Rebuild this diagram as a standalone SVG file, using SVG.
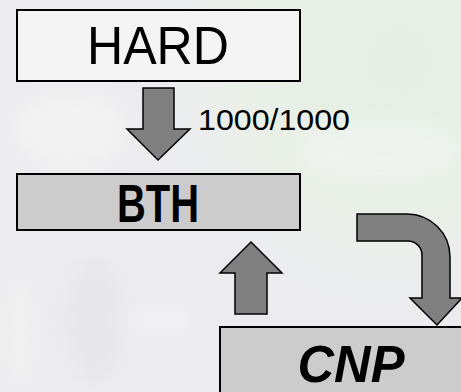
<svg xmlns="http://www.w3.org/2000/svg" width="461" height="392" viewBox="0 0 461 392">
<style>
.box{stroke:#000;stroke-width:2}
.arrow{fill:#808080;stroke:#000;stroke-width:1.5;stroke-linejoin:miter}
.t{font-family:"Liberation Sans",Arial,sans-serif;fill:#000;text-anchor:middle}
</style>
<defs>
<radialGradient id="green" cx="400" cy="60" r="260" gradientUnits="userSpaceOnUse">
<stop offset="0" stop-color="#e4efe2"/>
<stop offset="0.6" stop-color="#eaf0e8"/>
<stop offset="1" stop-color="#eeeff0" stop-opacity="0"/>
</radialGradient>
<filter id="blur" x="-20%" y="-20%" width="140%" height="140%"><feGaussianBlur stdDeviation="10"/></filter>
</defs>
<g id="background">
<rect x="0" y="0" width="461" height="392" fill="#ececee"/>
<rect x="0" y="0" width="461" height="392" fill="url(#green)"/>
<g filter="url(#blur)" opacity="0.6">
<ellipse cx="70" cy="130" rx="60" ry="40" fill="#f6f6f6"/>
<ellipse cx="95" cy="320" rx="30" ry="60" fill="#e4e4e6"/>
<ellipse cx="160" cy="320" rx="40" ry="12" fill="#f6f6f8"/>
<ellipse cx="20" cy="330" rx="15" ry="60" fill="#f4f4f4"/>
<ellipse cx="380" cy="150" rx="80" ry="30" fill="#f4f5f6"/>
</g>
</g>
<g id="connectors">
<path class="arrow" d="M143,88 L174,88 L174,129 L190,129 L158,160 L127,129 L143,129 Z"/>
<path class="arrow" d="M235,314 L267,314 L267,273 L282,273 L251,242 L220,273 L235,273 Z"/>
<path class="arrow" d="M357,214 L407,214 A43,43 0 0 1 450,257 L450,298 L462,298 L437,325 L410,298 L422,298 L422,255 A14,14 0 0 0 408,241 L357,241 Z"/>
<text class="t" x="274" y="130" font-size="30" textLength="152" lengthAdjust="spacingAndGlyphs" fill="#111">1000/1000</text>
</g>
<g id="node-hard">
<rect class="box" x="17" y="10" width="283" height="71" fill="#f4f4f4"/>
<text class="t" x="158" y="64" font-size="54" textLength="142" lengthAdjust="spacingAndGlyphs">HARD</text>
</g>
<g id="node-bth">
<rect class="box" x="17" y="174" width="283" height="56" fill="#cccccc"/>
<text class="t" x="158" y="222" font-size="53" font-weight="bold" textLength="82" lengthAdjust="spacingAndGlyphs">BTH</text>
</g>
<g id="node-cnp">
<rect class="box" x="220" y="327" width="250" height="75" fill="#cccccc"/>
<text class="t" x="351" y="382" font-size="51" font-weight="bold" font-style="italic" textLength="107" lengthAdjust="spacingAndGlyphs">CNP</text>
</g>
</svg>
